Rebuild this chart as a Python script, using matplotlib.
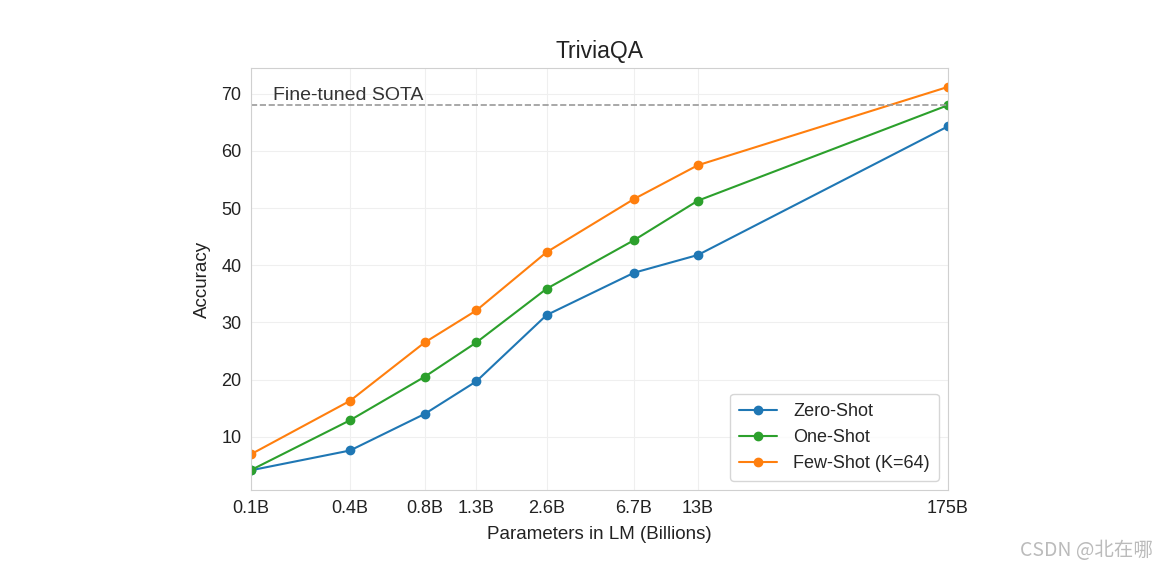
import matplotlib
matplotlib.use("Agg")
import matplotlib.pyplot as plt
import seaborn as sns

# model sizes (billions) and their display labels
params = [0.125, 0.35, 0.76, 1.3, 2.7, 6.7, 13, 175]
labels = ["0.1B", "0.4B", "0.8B", "1.3B", "2.6B", "6.7B", "13B", "175B"]

zero_shot = [4.15, 7.61, 14.0, 19.7, 31.3, 38.7, 41.8, 64.3]
one_shot = [4.19, 12.9, 20.5, 26.5, 35.9, 44.4, 51.3, 68.0]
few_shot = [6.96, 16.3, 26.5, 32.1, 42.3, 51.6, 57.5, 71.2]
sota = 68.0

sns.set_style("whitegrid")
plt.rcParams["font.family"] = ["Liberation Sans", "Noto Sans CJK SC", "DejaVu Sans"]

fig = plt.figure(figsize=(11.68, 5.67), dpi=100)
ax = fig.add_axes([0.2149, 0.1358, 0.5967, 0.7442])

ax.plot(params, zero_shot, marker="o", markersize=6, color="#1f77b4", label="Zero-Shot")
ax.plot(params, one_shot, marker="o", markersize=6, color="#2ca02c", label="One-Shot")
ax.plot(params, few_shot, marker="o", markersize=6, color="#ff7f0e", label="Few-Shot (K=64)")
ax.axhline(sota, color="#999999", linestyle="--", linewidth=1.2)
ax.text(0.157, sota + 0.2, "Fine-tuned SOTA", fontsize=14, color="#333333", va="bottom")

ax.set_xscale("log")
ax.set_xlim(params[0], params[-1])
ax.set_xticks(params)
ax.set_xticklabels(labels)
ax.minorticks_off()
ax.set_ylim(0.7, 74.5)
ax.set_yticks([10, 20, 30, 40, 50, 60, 70])
ax.tick_params(labelsize=13, colors="#222222")
ax.tick_params(axis="x", pad=4)

for s in ax.spines.values():
    s.set_color("#d0d0d0")
ax.grid(color="#efefef")

ax.set_title("TriviaQA", fontsize=16.5, color="#222222", pad=7)
ax.set_xlabel("Parameters in LM (Billions)", fontsize=13.5, color="#222222", labelpad=6)
ax.set_ylabel("Accuracy", fontsize=13.5, color="#222222", labelpad=7)
ax.legend(loc="lower right", fontsize=13, frameon=True, borderpad=0.5,
          handlelength=2.1, handletextpad=0.9)

fig.text(0.987, 0.02, "CSDN @北在哪", fontsize=14, color="#bbbbbb", ha="right",
         family=["Noto Sans CJK SC", "DejaVu Sans"])

plt.savefig("out.png", dpi=100)
